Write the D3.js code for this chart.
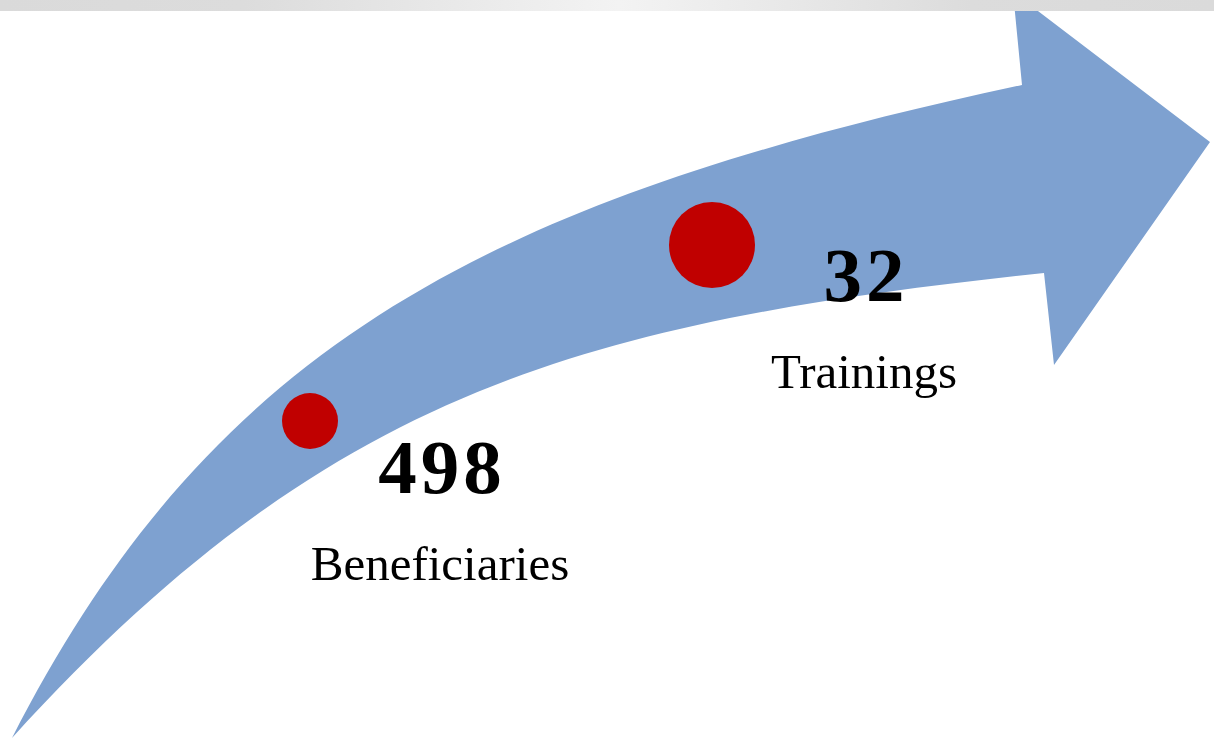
<!DOCTYPE html>
<html>
<head>
<meta charset="utf-8">
<script src="https://cdn.jsdelivr.net/npm/d3@7"></script>
<style>
  html, body { margin: 0; padding: 0; background: #fff; }
  svg { display: block; }
</style>
</head>
<body>
<svg id="chart" width="1214" height="739"></svg>
<script>
// Milestone values shown on the arrow
const metricValues = [498, 32];
const metricLabels = ["Beneficiaries", "Trainings"];

// Arrow outline (layout frame 1214 x 739)
// edges are cubic beziers: start, control 1, control 2, end
const arrowUpper = [[12, 738], [214, 342], [492, 199], [1022, 85]];
const arrowHead = [[1013, -8], [1210, 142], [1054, 365], [1044, 273]];
const arrowLower = [[1044, 273], [589, 322], [331, 387], [12, 738]];

document.addEventListener("DOMContentLoaded", () => {
  const svg = d3.select("#chart");
  const width = 1214;
  const height = 739;

  // layout scales (frame units -> pixels)
  const x = d3.scaleLinear().domain([0, 1214]).range([0, width]);
  const y = d3.scaleLinear().domain([0, 739]).range([0, height]);

  // milestone scales
  const markerX = d3.scalePoint().domain(metricLabels).range([310, 712]);
  const markerY = d3.scalePoint().domain(metricLabels).range([421, 245]);
  const markerR = d3.scaleOrdinal().domain(metricLabels).range([28, 43]);
  const textX = d3.scalePoint().domain(metricLabels).range([440, 864]);
  const numY = d3.scalePoint().domain(metricLabels).range([493, 301]);

  //Top gray band gradient
  const defs = svg.append("defs");
  const grad = defs.append("linearGradient").attr("id", "band").attr("x1", "0").attr("x2", "1");
  grad.append("stop").attr("offset", "0%").attr("stop-color", "#dadada");
  grad.append("stop").attr("offset", "20%").attr("stop-color", "#dcdcdc");
  grad.append("stop").attr("offset", "51%").attr("stop-color", "#f3f3f3");
  grad.append("stop").attr("offset", "80%").attr("stop-color", "#dcdcdc");
  grad.append("stop").attr("offset", "100%").attr("stop-color", "#dadada");

  //Building the arrow path
  const p = d3.path();
  const u = arrowUpper.map((d) => [x(d[0]), y(d[1])]);
  const l = arrowLower.map((d) => [x(d[0]), y(d[1])]);
  p.moveTo(u[0][0], u[0][1]);
  p.bezierCurveTo(u[1][0], u[1][1], u[2][0], u[2][1], u[3][0], u[3][1]);
  arrowHead.forEach((d) => p.lineTo(x(d[0]), y(d[1])));
  p.lineTo(l[0][0], l[0][1]);
  p.bezierCurveTo(l[1][0], l[1][1], l[2][0], l[2][1], l[3][0], l[3][1]);
  p.closePath();

  svg.append("path").attr("d", p.toString()).attr("fill", "#7ea1d0");

  svg.append("rect")
    .attr("x", 0).attr("y", 0)
    .attr("width", width).attr("height", y(11))
    .attr("fill", "url(#band)");

  //Milestone dots
  svg.selectAll("circle.dot")
    .data(metricLabels)
    .enter()
    .append("circle")
    .attr("class", "dot")
    .attr("cx", (d) => x(markerX(d)))
    .attr("cy", (d) => y(markerY(d)))
    .attr("r", (d) => markerR(d))
    .attr("fill", "#c00000");

  //Numbers
  svg.selectAll("text.num")
    .data(metricValues)
    .enter()
    .append("text")
    .attr("class", "num")
    .attr("x", (d, i) => x(textX(metricLabels[i])) + 2)
    .attr("y", (d, i) => y(numY(metricLabels[i])))
    .attr("text-anchor", "middle")
    .style("font-family", "'Liberation Serif', 'DejaVu Serif', serif")
    .style("font-weight", "bold")
    .style("font-size", "77px")
    .style("letter-spacing", "4px")
    .attr("fill", "#000")
    .text((d) => d);

  //Labels
  svg.selectAll("text.lbl")
    .data(metricLabels)
    .enter()
    .append("text")
    .attr("class", "lbl")
    .attr("x", (d) => x(textX(d)))
    .attr("y", (d) => y(numY(d) + 87))
    .attr("text-anchor", "middle")
    .style("font-family", "'Liberation Serif', 'DejaVu Serif', serif")
    .style("font-size", "49px")
    .attr("fill", "#000")
    .text((d) => d);
});
</script>
</body>
</html>
